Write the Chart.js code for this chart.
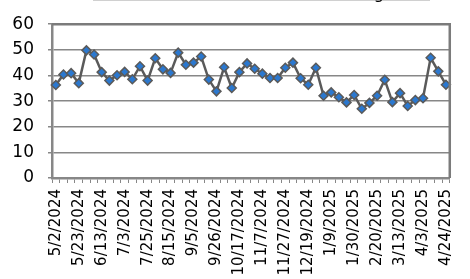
<!DOCTYPE html>
<html>
<head>
<meta charset="utf-8">
<script src="https://cdn.jsdelivr.net/npm/chart.js@4/dist/chart.umd.min.js"></script>
<style>
    html, body { margin: 0; padding: 0; background: #fff; }
    #wrap { position: relative; width: 470px; height: 279px; }
</style>
</head>
<body>
<div id="wrap"><canvas id="chart" width="470" height="279"></canvas></div>
<script>
// Weekly dates (categories)
const dates = [
    "5/2/2024", "5/9/2024", "5/16/2024", "5/23/2024", "5/30/2024", "6/6/2024",
    "6/13/2024", "6/20/2024", "6/27/2024", "7/3/2024", "7/11/2024", "7/18/2024",
    "7/25/2024", "8/1/2024", "8/8/2024", "8/15/2024", "8/22/2024", "8/29/2024",
    "9/5/2024", "9/12/2024", "9/19/2024", "9/26/2024", "10/3/2024", "10/10/2024",
    "10/17/2024", "10/24/2024", "10/31/2024", "11/7/2024", "11/14/2024", "11/21/2024",
    "11/27/2024", "12/5/2024", "12/12/2024", "12/19/2024", "12/26/2024", "1/2/2025",
    "1/9/2025", "1/16/2025", "1/23/2025", "1/30/2025", "2/6/2025", "2/13/2025",
    "2/20/2025", "2/27/2025", "3/6/2025", "3/13/2025", "3/20/2025", "3/27/2025",
    "4/3/2025", "4/10/2025", "4/17/2025", "4/24/2025"
];

// Series values
const values = [
    36.3, 40.4, 40.9, 37.0, 49.8, 48.2, 41.3, 38.0, 40.1, 41.4,
    38.5, 43.6, 38.0, 46.7, 42.4, 41.0, 48.9, 44.2, 45.0, 47.4,
    38.4, 33.8, 43.2, 35.1, 41.3, 44.7, 42.6, 40.7, 39.0, 39.0,
    43.0, 45.0, 38.9, 36.4, 43.0, 32.1, 33.4, 31.5, 29.5, 32.4,
    27.0, 29.3, 32.1, 38.3, 29.6, 33.1, 28.1, 30.4, 31.1, 46.9,
    41.6, 36.4
];

// Y axis ticks
const yMin = 0;
const yMax = 60;
const yStep = 10;
const labelEvery = 3;
const seriesName = "Rating";

const gridGrey = "#878787";
const frameGrey = "#7b7b7b";

// Plot frame (top + right border) and the clipped legend box at the top
const framePlugin = {
    id: "frame",
    afterDraw(chart) {
        const { ctx, chartArea } = chart;
        ctx.save();
        ctx.strokeStyle = frameGrey;
        ctx.lineWidth = 2.5;
        ctx.beginPath();
        ctx.moveTo(chartArea.left, chartArea.top);
        ctx.lineTo(chartArea.right, chartArea.top);
        ctx.lineTo(chartArea.right, chartArea.bottom);
        ctx.stroke();

        // legend box mostly above the visible area
        ctx.strokeStyle = "#d0d0d0";
        ctx.lineWidth = 1;
        ctx.strokeRect(93.5, -20, 336, 20.5);
        ctx.fillStyle = "#000";
        ctx.font = "16px 'DejaVu Sans'";
        ctx.textAlign = "right";
        ctx.textBaseline = "alphabetic";
        ctx.fillText(seriesName, 384, -1);
        ctx.restore();
    }
};

new Chart(document.getElementById("chart").getContext("2d"), {
    type: "line",
    data: {
        labels: dates,
        datasets: [{
            label: seriesName,
            data: values,
            borderColor: "#5a5a5a",
            borderWidth: 2.5,
            tension: 0,
            pointStyle: "rectRot",
            pointRadius: 4.5,
            pointBackgroundColor: "#2b78cf",
            pointBorderColor: "#5a5a5a",
            pointBorderWidth: 1.5,
        }]
    },
    options: {
        responsive: false,
        animation: false,
        layout: { padding: { top: 19, right: 4, left: 0, bottom: 0 } },
        plugins: {
            legend: { display: false },
            tooltip: { enabled: false }
        },
        scales: {
            x: {
                offset: true,
                afterFit: (scale) => { scale.height = 101; },
                grid: {
                    offset: true,
                    drawOnChartArea: false,
                    drawTicks: true,
                    tickLength: 5,
                    color: gridGrey,
                    lineWidth: 1
                },
                border: { display: true, color: gridGrey, width: 2.5 },
                ticks: {
                    autoSkip: false,
                    maxRotation: 90,
                    minRotation: 90,
                    padding: 6,
                    color: "#000",
                    font: { family: "'DejaVu Sans'", size: 15 },
                    callback: (v, i) => (i % labelEvery === 0 ? dates[i] : "")
                }
            },
            y: {
                min: yMin,
                max: yMax,
                afterFit: (scale) => { scale.width = 52; },
                grid: {
                    color: gridGrey,
                    lineWidth: 1.5,
                    tickLength: 4
                },
                border: { display: true, color: gridGrey, width: 2.5 },
                ticks: {
                    stepSize: yStep,
                    padding: 14,
                    color: "#000",
                    font: { family: "'DejaVu Sans'", size: 17 }
                }
            }
        }
    },
    plugins: [framePlugin]
});
</script>
</body>
</html>
